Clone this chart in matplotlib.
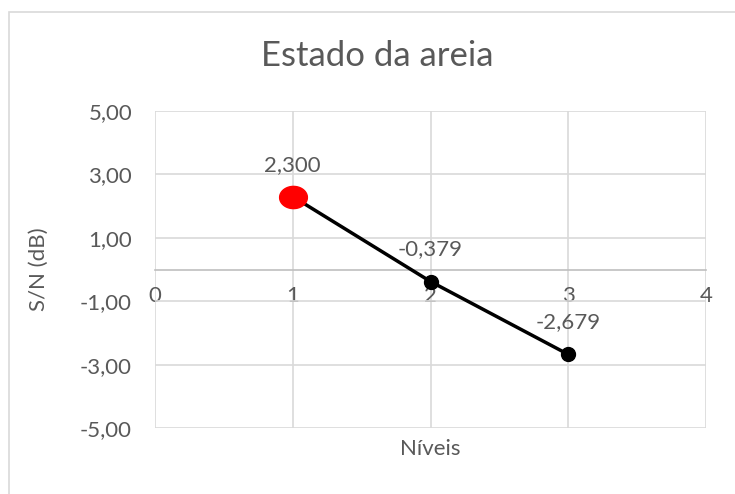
import numpy as np
import matplotlib.pyplot as plt
from matplotlib.path import Path
from matplotlib.patches import Rectangle

# Níveis e relação S/N (dB) para o fator "Estado da areia"
niveis = [1, 2, 3]
sn_db = [2.300, -0.379, -2.679]
rotulos = ['2,300', '-0,379', '-2,679']
yticks = [-5, -3, -1, 1, 3, 5]
xticks = [0, 1, 2, 3, 4]

CINZA_TEXTO = '#595959'
CINZA_GRADE = '#d9d9d9'

plt.rcParams['font.family'] = ['Lato', 'DejaVu Sans']

fig = plt.figure(figsize=(7.35, 4.94), dpi=100)
ax = fig.add_axes([155 / 735, 1 - 428 / 494, 551 / 735, 317 / 494])

# moldura externa do gráfico
fig.patches.append(Rectangle((9 / 735, -0.1), 1.2, 1 - 12 / 494 + 0.1,
                             transform=fig.transFigure, fill=False,
                             edgecolor=CINZA_GRADE, linewidth=1.2))

ax.set_xlim(0, 4)
ax.set_ylim(-5, 5)
ax.set_xticks(xticks)
ax.set_yticks(yticks)
ax.set_yticklabels([f'{v:.2f}'.replace('.', ',') for v in yticks])
ax.grid(True, color=CINZA_GRADE, linewidth=1.2)
ax.set_axisbelow(True)

for lado in ['top', 'right', 'left']:
    ax.spines[lado].set_visible(False)
ax.spines['bottom'].set_position(('data', 0))
ax.spines['bottom'].set_color('#bfbfbf')
ax.spines['bottom'].set_linewidth(1.2)
ax.tick_params(length=0, labelsize=16, colors=CINZA_TEXTO)
ax.tick_params(axis='x', pad=12)
ax.tick_params(axis='y', pad=16.5)

# linha dos níveis
ax.plot(niveis, sn_db, color='black', linewidth=2.5, zorder=3)

# primeiro ponto destacado em vermelho (elipse)
t = np.linspace(0, 2 * np.pi, 60)
elipse = Path(np.column_stack([np.cos(t), 0.8 * np.sin(t)]))
ax.plot(niveis[:1], sn_db[:1], linestyle='none', marker=elipse,
        markersize=20, color='#ff0000', zorder=4)
ax.plot(niveis[1:], sn_db[1:], linestyle='none', marker='o',
        markersize=10, color='black', zorder=4)

for x, y, txt in zip(niveis, sn_db, rotulos):
    ax.annotate(txt, (x, y), xytext=(0, 23), textcoords='offset points',
                ha='center', va='center', fontsize=16, color=CINZA_TEXTO)

fig.text(377 / 735, 1 - 56 / 494, 'Estado da areia', ha='center', va='center',
         fontsize=25, color=CINZA_TEXTO)
fig.text(39 / 735, 1 - 269 / 494, 'S/N (dB)', ha='center', va='center',
         rotation=90, fontsize=16, color=CINZA_TEXTO)
fig.text(430 / 735, 1 - 449 / 494, 'Níveis', ha='center', va='center',
         fontsize=16, color=CINZA_TEXTO)

fig.savefig('out.png', dpi=100)
